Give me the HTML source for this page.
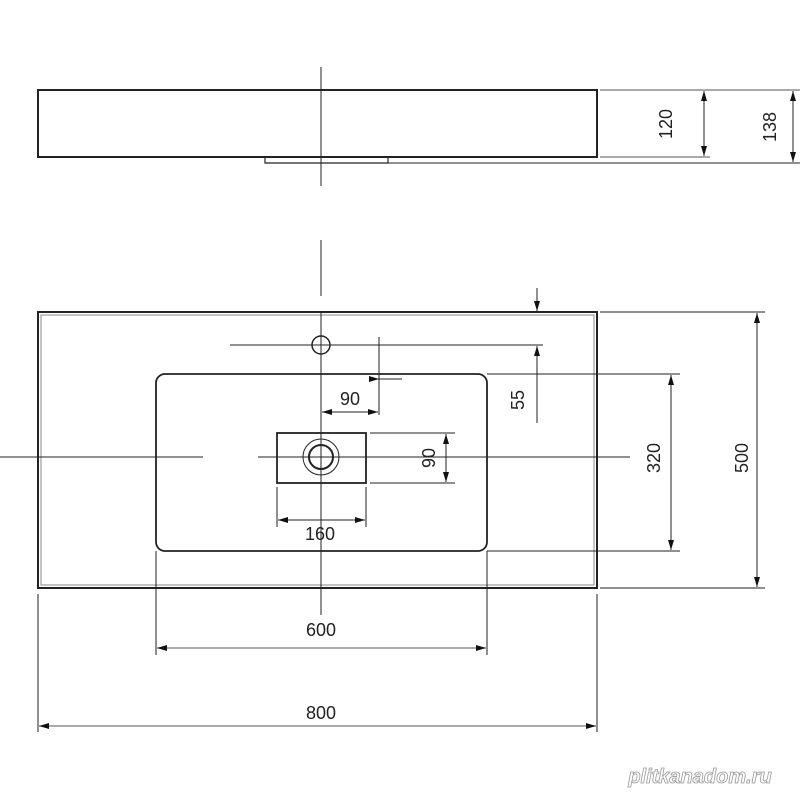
<!DOCTYPE html>
<html><head><meta charset="utf-8"><style>body{margin:0;background:#fff}svg{display:block}</style></head>
<body>
<svg width="800" height="800" viewBox="0 0 800 800" xmlns="http://www.w3.org/2000/svg" font-family="Liberation Sans, Arial, sans-serif" font-size="18" fill="none" stroke="#222">
<defs>
<marker id="a" viewBox="0 0 10 6" refX="10" refY="3" markerWidth="10" markerHeight="6" markerUnits="userSpaceOnUse" orient="auto-start-reverse"><path d="M0,0 L10,3 L0,6 z" fill="#111" stroke="none"/></marker>
</defs>
<!-- top view -->
<rect x="38" y="90" width="559" height="67" stroke-width="2"/>
<path d="M265,157 V163 H388 V157" stroke-width="1.2"/>
<line x1="321" y1="67" x2="321" y2="186" stroke-width="1"/>
<line x1="600" y1="90" x2="800" y2="90" stroke="#555" stroke-width="1"/>
<line x1="600" y1="157" x2="710" y2="157" stroke="#777" stroke-width="1.2"/>
<line x1="388" y1="163" x2="800" y2="163" stroke-width="1"/>
<line x1="704" y1="91" x2="704" y2="156" stroke-width="1" marker-start="url(#a)" marker-end="url(#a)"/>
<line x1="793" y1="91" x2="793" y2="162" stroke-width="1" marker-start="url(#a)" marker-end="url(#a)"/>
<g fill="#222" stroke="none">
<text transform="translate(672,124) rotate(-90)" text-anchor="middle">120</text>
<text transform="translate(776,127) rotate(-90)" text-anchor="middle">138</text>
</g>
<!-- plan -->
<rect x="38" y="312" width="559" height="276" stroke-width="2"/>
<rect x="41" y="315" width="553" height="270" stroke="#888" stroke-width="1"/>
<rect x="156" y="374" width="331" height="177" rx="9" stroke-width="1.8"/>
<line x1="321" y1="240" x2="321" y2="296" stroke-width="1"/>
<line x1="321" y1="312" x2="321" y2="615" stroke-width="1"/>
<circle cx="321" cy="345" r="9" stroke-width="1.5"/>
<line x1="230" y1="345" x2="543" y2="345" stroke-width="1"/>
<rect x="277" y="433" width="89" height="50" stroke-width="1.8"/>
<circle cx="321" cy="457" r="18" stroke-width="1"/>
<circle cx="321" cy="457" r="12" stroke-width="2"/>
<line x1="0" y1="457" x2="203" y2="457" stroke-width="1"/>
<line x1="258" y1="457" x2="630" y2="457" stroke-width="1"/>
<!-- 90 horizontal -->
<line x1="379" y1="337" x2="379" y2="415" stroke-width="1"/>
<line x1="322" y1="412" x2="378" y2="412" stroke-width="1" marker-start="url(#a)" marker-end="url(#a)"/>
<line x1="370" y1="379" x2="402" y2="379" stroke-width="1"/>
<path d="M369,376 L379,379 L369,382 z" fill="#111" stroke="none"/>
<!-- 55 -->
<line x1="537" y1="288" x2="537" y2="311" stroke-width="1" marker-end="url(#a)"/>
<line x1="537" y1="423" x2="537" y2="346" stroke-width="1" marker-end="url(#a)"/>
<!-- 90 vertical -->
<line x1="370" y1="433" x2="455" y2="433" stroke-width="1"/>
<line x1="370" y1="483" x2="455" y2="483" stroke-width="1"/>
<line x1="446" y1="434" x2="446" y2="482" stroke-width="1" marker-start="url(#a)" marker-end="url(#a)"/>
<!-- 160 -->
<line x1="277" y1="487" x2="277" y2="527" stroke-width="1"/>
<line x1="366" y1="487" x2="366" y2="527" stroke-width="1"/>
<line x1="278" y1="520" x2="365" y2="520" stroke-width="1" marker-start="url(#a)" marker-end="url(#a)"/>
<!-- 320 -->
<line x1="487" y1="374" x2="680" y2="374" stroke-width="1"/>
<line x1="487" y1="551" x2="680" y2="551" stroke-width="1"/>
<line x1="671" y1="375" x2="671" y2="550" stroke-width="1" marker-start="url(#a)" marker-end="url(#a)"/>
<!-- 500 -->
<line x1="600" y1="312" x2="765" y2="312" stroke-width="1"/>
<line x1="600" y1="588" x2="765" y2="588" stroke-width="1"/>
<line x1="757" y1="313" x2="757" y2="587" stroke-width="1" marker-start="url(#a)" marker-end="url(#a)"/>
<!-- 600 -->
<line x1="156" y1="551" x2="156" y2="655" stroke-width="1"/>
<line x1="487" y1="551" x2="487" y2="655" stroke-width="1"/>
<line x1="157" y1="648" x2="486" y2="648" stroke="#777" stroke-width="1.2" marker-start="url(#a)" marker-end="url(#a)"/>
<!-- 800 -->
<line x1="38" y1="594" x2="38" y2="732" stroke-width="1"/>
<line x1="597" y1="594" x2="597" y2="732" stroke-width="1"/>
<line x1="39" y1="726" x2="596" y2="726" stroke="#777" stroke-width="1.2" marker-start="url(#a)" marker-end="url(#a)"/>
<g fill="#222" stroke="none">
<text x="350" y="405" text-anchor="middle">90</text>
<text transform="translate(524,400) rotate(-90)" text-anchor="middle">55</text>
<text transform="translate(435,458) rotate(-90)" text-anchor="middle">90</text>
<text x="320" y="540" text-anchor="middle">160</text>
<text transform="translate(660,458) rotate(-90)" text-anchor="middle">320</text>
<text transform="translate(748,458) rotate(-90)" text-anchor="middle">500</text>
<text x="321" y="636" text-anchor="middle">600</text>
<text x="321" y="719" text-anchor="middle">800</text>
</g>
<text x="700" y="783" text-anchor="middle" font-size="20" font-weight="bold" font-style="italic" fill="#fff" stroke="#999" stroke-width="0.8">plitkanadom.ru</text>
</svg>
</body></html>
